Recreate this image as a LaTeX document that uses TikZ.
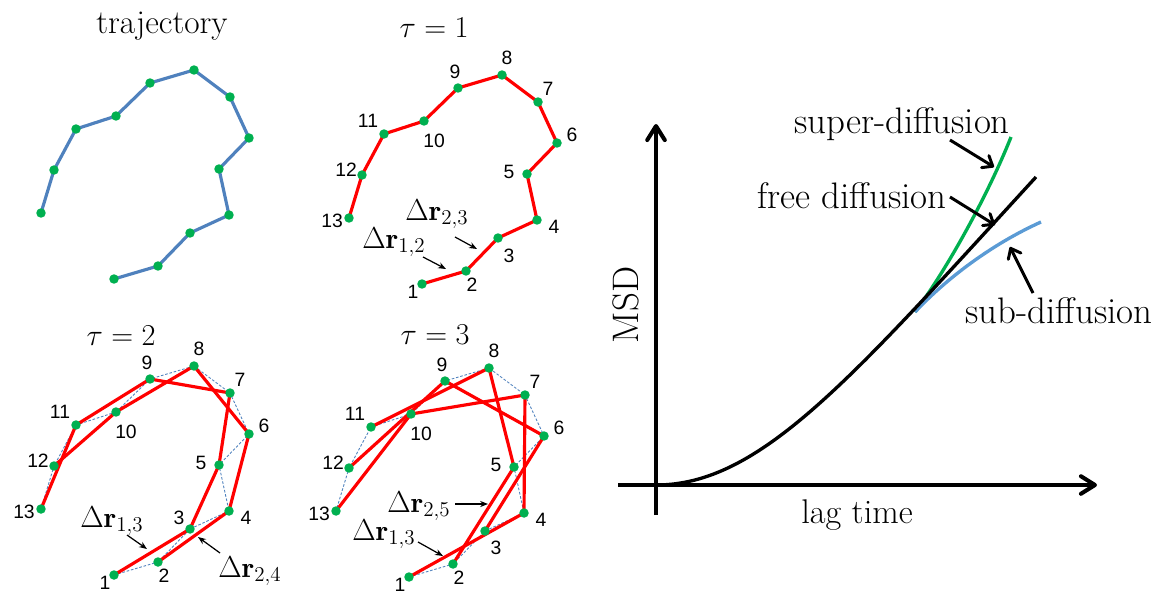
\documentclass[tikz,border=0pt]{standalone}
\usepackage{amsmath,amssymb}
\usepackage{fontspec}
\newfontfamily\numfont{Liberation Sans}
\usetikzlibrary{arrows.meta}

\definecolor{trajblue}{RGB}{79,129,189}
\definecolor{dotgreen}{RGB}{0,176,80}
\definecolor{lagred}{RGB}{255,0,0}
\definecolor{subblue}{RGB}{91,155,213}

\begin{document}
\begin{tikzpicture}[x=0.02cm, y=-0.02cm,
  trajline/.style={trajblue, line width=1.8pt, line join=round},
  lagline/.style={lagred, line width=1.8pt, line join=round},
  stepline/.style={trajblue, line width=0.5pt, dash pattern=on 1.5pt off 1pt},
  dot/.style={circle, fill=dotgreen, inner sep=0pt, minimum size=5.4pt},
  numlbl/.style={font=\numfont\fontsize{11}{13}\selectfont, inner sep=0pt},
  ttl/.style={font=\fontsize{18.5}{22}\selectfont, anchor=base, inner sep=0pt},
  drlbl/.style={font=\fontsize{16.5}{20}\selectfont, anchor=base, inner sep=0pt},
  drarrow/.style={-{Stealth[length=4.5pt,width=3.5pt]}, line width=0.7pt},
  axis/.style={line width=2.3pt, -{Straight Barb[length=8pt,width=10pt,round]}},
  curve/.style={line width=1.9pt},
  chartlbl/.style={font=\fontsize{21}{25}\selectfont, anchor=base, inner sep=0pt},
  lblarrow/.style={line width=1.7pt, -{Straight Barb[length=5pt,width=8pt,round]}}]

\useasboundingbox (0,0) rectangle (1156,595);

% ── Walk points (px, trajectory panel) / label offsets ───────
%   point 3 label offset differs per panel -> \tx,\ty
\def\traj{114/279/-9/8, 158/266/6/14, 190/233/\tx/\ty, 229/215/17/7,
  219/169/-18/-2, 249/138/15/-8, 230/97/10/-13, 194/70/5/-17,
  150/83/-3/-16, 116/116/10/20, 76/129/-16/-13, 54/170/-16/-5,
  41/213/-17/3}

% panel shifts: t = trajectory, a = tau 1, b = tau 2, c = tau 3
\foreach \pn/\dx/\dy/\tx/\ty in {t/0/0/0/0, a/308/5/11/18,
    b/0/296/-11/-11, c/295/298/11/17} {
  \foreach \x/\y/\ox/\oy [count=\i] in \traj {
    \coordinate (\pn\i) at (\x+\dx, \y+\dy);
  }
}

% ── Paths ────────────────────────────────────────────────────
\draw[trajline] (t1) \foreach \i in {2,...,13} { -- (t\i) };
\draw[lagline]  (a1) \foreach \i in {2,...,13} { -- (a\i) };
\foreach \pn in {b,c}
  \draw[stepline] (\pn1) \foreach \i in {2,...,13} { -- (\pn\i) };

\foreach \i [evaluate=\i as \j using int(\i+2)] in {1,...,11}
  \draw[lagline] (b\i) -- (b\j);
\foreach \i [evaluate=\i as \j using int(\i+3)] in {1,...,10}
  \draw[lagline] (c\i) -- (c\j);

% ── Dots and numbers ─────────────────────────────────────────
\foreach \pn in {t,a,b,c}
  \foreach \i in {1,...,13}
    \node[dot] (d\pn\i) at (\pn\i) {};

\foreach \pn/\dx/\dy/\tx/\ty in {a/308/5/11/18, b/0/296/-11/-11,
    c/295/298/11/17} {
  \foreach \x/\y/\ox/\oy [count=\i] in \traj {
    \node[numlbl] (n\pn\i) at (\x+\dx+\ox, \y+\dy+\oy) {\i};
  }
}

% ── Panel titles ─────────────────────────────────────────────
\node[ttl, font=\fontsize{19}{23}\selectfont] (trajttl) at (162,33) {trajectory};
\node[ttl] (tau1) at (434,37)  {$\tau=1$};
\node[ttl] (tau2) at (121,345) {$\tau=2$};
\node[ttl] (tau3) at (435,344) {$\tau=3$};

% ── Displacement labels and pointers ─────────────────────────
\node[drlbl] (dra23) at (437,220) {$\Delta\mathbf{r}_{2,3}$};
\node[drlbl] (dra12) at (394,248) {$\Delta\mathbf{r}_{1,2}$};
\node[drlbl] (drb13) at (112,527) {$\Delta\mathbf{r}_{1,3}$};
\node[drlbl] (drb24) at (250,577) {$\Delta\mathbf{r}_{2,4}$};
\node[drlbl] (drc25) at (419,512) {$\Delta\mathbf{r}_{2,5}$};
\node[drlbl] (drc13) at (384,540) {$\Delta\mathbf{r}_{1,3}$};

\foreach \nm/\ax/\ay/\bx/\by in {
    dra23/455/237/477/249, dra12/423/257/446/269,
    drb13/127/535/147/549, drb24/220/553/198/537,
    drc25/455/504/488/504, drc13/418/542/443/556} {
  \coordinate (\nm s) at (\ax,\ay);
  \coordinate (\nm e) at (\bx,\by);
  \draw[drarrow] (\nm s) -- (\nm e);
}

% ── MSD chart ────────────────────────────────────────────────
\coordinate (orig) at (656,485);
\coordinate (ybot) at (656,515);
\coordinate (ytop) at (656,124);
\coordinate (xlft) at (618,485);
\coordinate (xrgt) at (1097,485);
\draw[axis] (ybot) -- (ytop);
\draw[axis] (xlft) -- (xrgt);

\coordinate (split)    at (915,312);
\coordinate (superend) at (1011,137);
\coordinate (subend)   at (1041,222);
\coordinate (freeend)  at (1036,177);
\draw[curve, dotgreen] (split) .. controls (950,265) and (990,190) .. (superend);
\draw[curve, subblue]  (split) .. controls (945,280) and (990,245) .. (subend);
\draw[curve]           (orig)  .. controls (760,485) and (850,380) .. (freeend);

\node[chartlbl] (superlbl) at (902,133)  {super-diffusion};
\node[chartlbl] (freelbl)  at (852,208)  {free diffusion};
\node[chartlbl] (sublbl)   at (1059,323) {sub-diffusion};
\node[chartlbl, font=\fontsize{19.5}{23}\selectfont] (laglbl) at (857,523) {lag time};
\node[chartlbl, anchor=center, rotate=90] (msdlbl) at (626,305) {MSD};

\coordinate (supers) at (950,140);  \coordinate (supere) at (994,167);
\coordinate (frees)  at (950,197);  \coordinate (freee)  at (995,225);
\coordinate (subs)   at (1033,293); \coordinate (sube)   at (1010,247);
\draw[lblarrow] (supers) -- (supere);
\draw[lblarrow] (frees)  -- (freee);
\draw[lblarrow] (subs)   -- (sube);

\end{tikzpicture}
\end{document}
